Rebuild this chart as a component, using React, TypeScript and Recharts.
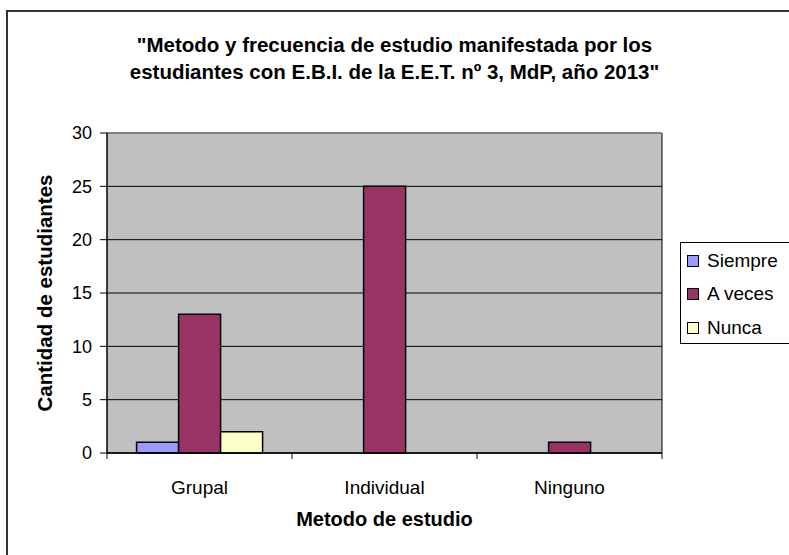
import React from 'react';
import {
  BarChart, Bar, XAxis, YAxis, CartesianGrid, Legend, ReferenceLine,
} from 'recharts';

const metodos = ['Grupal', 'Individual', 'Ninguno'];
const siempre = [1, 0, 0];
const aVeces = [13, 25, 1];
const nunca = [2, 0, 0];
const yTicks = [0, 5, 10, 15, 20, 25, 30];
const seriesNames = ['Siempre', 'A veces', 'Nunca'];

const data = metodos.map((m, i) => ({
  metodo: m,
  siempre: siempre[i],
  aVeces: aVeces[i],
  nunca: nunca[i],
}));

const FONT = 'Arial, "Liberation Sans", sans-serif';

const XTick = (props: any) => {
  const { x, y, payload, index } = props;
  const half = payload.offset || 0;
  return (
    <g>
      <line x1={x - half} x2={x - half} y1={y} y2={y + 6} stroke="#000" />
      {index === metodos.length - 1 && (
        <line x1={x + half} x2={x + half} y1={y} y2={y + 6} stroke="#000" />
      )}
      <text x={x} y={y + 41} textAnchor="middle" fontSize={19} fontFamily={FONT} fill="#000">
        {payload.value}
      </text>
    </g>
  );
};

const LegendBox = (props: any) => {
  const items = [...(props.payload || [])].sort(
    (a: any, b: any) => seriesNames.indexOf(a.value) - seriesNames.indexOf(b.value),
  );
  return (
    <div style={{ paddingTop: 1 }}>
      {items.map((it: any) => (
        <div key={it.value} style={{ display: 'flex', alignItems: 'center', height: 33.5 }}>
          <span style={{
            display: 'inline-block', width: 10, height: 10, marginLeft: 6, marginRight: 8,
            background: it.color, border: '1px solid #000',
          }} />
          <span style={{ fontSize: 19, fontFamily: FONT, color: '#000' }}>{it.value}</span>
        </div>
      ))}
    </div>
  );
};

export default function App() {
  return (
    <div style={{ position: 'absolute', left: 0, top: 0, width: 789, height: 555, background: '#fff', overflow: 'hidden' }}>
      <div style={{
        position: 'absolute', left: 6, top: 10, width: 900, height: 700,
        borderLeft: '2px solid #333', borderTop: '2px solid #333',
      }} />
      <div style={{
        position: 'absolute', left: 0, top: 31, width: 789, textAlign: 'center',
        fontFamily: FONT, fontWeight: 'bold', fontSize: 20.5, lineHeight: '27px', color: '#000',
      }}>
        "Metodo y frecuencia de estudio manifestada por los<br />
        estudiantes con E.B.I. de la E.E.T. nº 3, MdP, año 2013"
      </div>
      <div style={{ position: 'absolute', left: 0, top: 0 }}>
        <BarChart
          width={789}
          height={555}
          data={data}
          margin={{ top: 133, right: 127, bottom: 72, left: 47 }}
          barCategoryGap="16%"
          barGap={0}
        >
          <CartesianGrid
            fill="#C0C0C0"
            stroke="#000"
            verticalCoordinatesGenerator={({ offset }: any) => [offset.left + offset.width]}
            horizontalValues={yTicks}
          />
          <ReferenceLine y={30} stroke="#808080" strokeWidth={2} />
          <XAxis
            dataKey="metodo"
            tickLine={false}
            tickSize={0}
            tickMargin={0}
            height={30}
            axisLine={{ stroke: '#000', strokeWidth: 1.5 }}
            tick={<XTick />}
            label={{
              value: 'Metodo de estudio', position: 'insideBottom', offset: -43,
              style: { fontFamily: FONT, fontWeight: 'bold', fontSize: 20, fill: '#000' },
            }}
          />
          <YAxis
            width={60}
            domain={[0, 30]}
            ticks={yTicks}
            tickSize={7}
            tickMargin={8}
            axisLine={{ stroke: '#000', strokeWidth: 1.5 }}
            tickLine={{ stroke: '#000' }}
            tick={{ fontSize: 18, fontFamily: FONT, fill: '#000' }}
            label={{
              value: 'Cantidad de estudiantes', angle: -90, position: 'insideLeft', offset: -2,
              style: { fontFamily: FONT, fontWeight: 'bold', fontSize: 20.5, fill: '#000', textAnchor: 'middle' },
            }}
          />
          <Legend
            layout="horizontal"
            verticalAlign="middle"
            align="center"
            content={<LegendBox />}
            wrapperStyle={{
              left: 680, top: 242, width: 120, height: 102, boxSizing: 'border-box',
              border: '1px solid #000', background: '#fff',
            }}
          />
          <Bar dataKey="siempre" name="Siempre" fill="#9999FF" stroke="#000" strokeWidth={1.5} isAnimationActive={false} />
          <Bar dataKey="aVeces" name="A veces" fill="#993366" stroke="#000" strokeWidth={1.5} isAnimationActive={false} />
          <Bar dataKey="nunca" name="Nunca" fill="#FFFFCC" stroke="#000" strokeWidth={1.5} isAnimationActive={false} />
        </BarChart>
      </div>
    </div>
  );
}
